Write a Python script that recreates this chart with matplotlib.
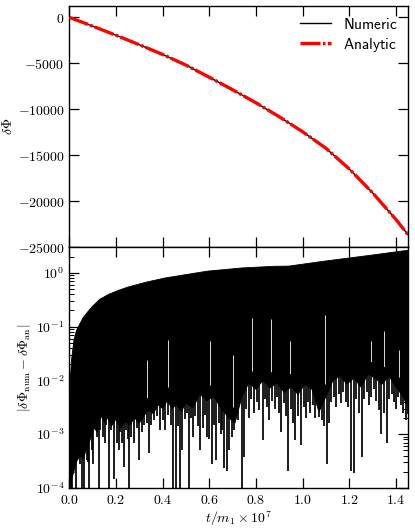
import numpy as np
import matplotlib
matplotlib.use('Agg')
import matplotlib.pyplot as plt
from matplotlib.ticker import FuncFormatter, LogLocator, NullFormatter

plt.rcParams['mathtext.fontset'] = 'cm'
plt.rcParams['font.size'] = 10

# top panel: accumulated phase shift
t_phase = [0.0, 0.1, 0.2, 0.3, 0.4, 0.5, 0.6, 0.7, 0.8, 0.9, 1.0, 1.1,
           1.2, 1.3, 1.4, 1.453]
dphi_num = [0, -960, -1950, -2980, -4040, -5200, -6520, -7880, -9300,
            -10820, -12450, -14250, -16500, -19100, -22000, -23700]
dphi_an = dphi_num

# bottom panel: |num - an|, read as upper envelope, lower edge of the
# dense band, individual deep dips and thin white gaps
env_t = [0.0, 0.002, 0.005, 0.01, 0.02, 0.03, 0.045, 0.06, 0.08, 0.1, 0.13,
         0.17, 0.21, 0.25, 0.33, 0.41, 0.49, 0.59, 0.74, 0.88, 0.94, 1.1,
         1.3, 1.453]
env_v = [1e-4, 2e-3, 0.012, 0.025, 0.056, 0.083, 0.112, 0.148, 0.19, 0.24,
         0.32, 0.40, 0.47, 0.54, 0.67, 0.80, 0.91, 1.07, 1.23, 1.32, 1.33,
         1.66, 2.14, 2.63]

floor_t = [0.0, 0.01, 0.02, 0.03, 0.045, 0.06, 0.075, 0.09, 0.105, 0.12,
           0.135, 0.15, 0.165, 0.18, 0.2, 0.22, 0.24, 0.26, 0.28, 0.3, 0.32,
           0.34, 0.36, 0.38, 0.4, 0.42, 0.44, 0.46, 0.48, 0.5, 0.53, 0.56,
           0.59, 0.62, 0.65, 0.68, 0.71, 0.74, 0.77, 0.8, 0.83, 0.86, 0.89,
           0.92, 0.95, 0.98, 1.01, 1.04, 1.07, 1.1, 1.13, 1.16, 1.19, 1.22,
           1.25, 1.28, 1.31, 1.34, 1.37, 1.4, 1.43, 1.453]
floor_v = [1.0e-4, 1.5e-4, 2.0e-4, 3.0e-4, 4.0e-4, 3.5e-4, 5.5e-4, 8.0e-4,
           1.3e-3, 1.1e-3, 2.2e-3, 1.7e-3, 2.0e-3, 1.4e-3, 1.9e-3, 1.3e-3,
           1.7e-3, 1.5e-3, 2.0e-3, 1.6e-3, 2.2e-3, 2.8e-3, 2.4e-3, 3.5e-3,
           3.0e-3, 4.2e-3, 3.0e-3, 3.5e-3, 2.6e-3, 3.8e-3, 3.1e-3, 5.5e-3,
           4.2e-3, 5.0e-3, 3.0e-3, 2.1e-3, 1.6e-3, 5.0e-3, 9.0e-3, 6.8e-3,
           1.0e-2, 7.2e-3, 9.0e-3, 6.0e-3, 7.5e-3, 5.5e-3, 8.5e-3, 6.8e-3,
           2.6e-3, 5.0e-3, 1.0e-2, 1.2e-2, 8.5e-3, 1.1e-2, 7.5e-3, 1.3e-2,
           1.1e-2, 8.5e-3, 1.2e-2, 7.5e-3, 5.0e-3, 3.0e-3]

dip_t = [0.006, 0.011, 0.017, 0.029, 0.037, 0.046, 0.054, 0.064, 0.074,
         0.080, 0.086, 0.096, 0.103, 0.117, 0.126, 0.132, 0.146, 0.152,
         0.157, 0.171, 0.178, 0.193, 0.203, 0.212, 0.218, 0.226, 0.235,
         0.243, 0.25, 0.257, 0.266, 0.279, 0.288, 0.30, 0.31, 0.32, 0.333,
         0.343, 0.352, 0.365, 0.375, 0.388, 0.40, 0.41, 0.425, 0.435, 0.443,
         0.457, 0.467, 0.476, 0.483, 0.495, 0.505, 0.514, 0.522, 0.529,
         0.54, 0.55, 0.561, 0.571, 0.58, 0.59, 0.60, 0.61, 0.62, 0.629,
         0.64, 0.648, 0.656, 0.664, 0.676, 0.686, 0.696, 0.705, 0.715,
         0.725, 0.74, 0.75, 0.758, 0.768, 0.778, 0.793, 0.805, 0.815, 0.829,
         0.84, 0.848, 0.857, 0.87, 0.88, 0.89, 0.898, 0.907, 0.918, 0.928,
         0.939, 0.948, 0.957, 0.966, 0.98, 0.993, 1.005, 1.015, 1.022,
         1.032, 1.045, 1.055, 1.069, 1.083, 1.092, 1.103, 1.111, 1.12,
         1.135, 1.145, 1.155, 1.165, 1.175, 1.185, 1.193, 1.207, 1.219,
         1.228, 1.243, 1.254, 1.265, 1.275, 1.285, 1.295, 1.305, 1.315,
         1.326, 1.336, 1.35, 1.362, 1.372, 1.382, 1.392, 1.40, 1.41, 1.42,
         1.43, 1.443, 1.45]
dip_v = [5e-5, 5e-5, 2.5e-4, 5e-5, 3.5e-4, 2.8e-4, 5e-5, 5e-5, 3.3e-4,
         3.0e-4, 5e-5, 5e-4, 2.8e-4, 9e-4, 5e-5, 1.2e-3, 9e-4, 7e-4,
         1.5e-3, 5e-5, 1.2e-3, 1.5e-4, 7e-4, 5e-4, 1.1e-3, 7e-4, 2.5e-4,
         1.2e-3, 8e-4, 5e-5, 9e-4, 7e-4, 1.3e-3, 3.3e-4, 1.1e-3, 1.5e-3,
         1.6e-3, 4.5e-4, 1.5e-3, 1.8e-3, 2.2e-3, 1.2e-3, 1.8e-3, 1.2e-3,
         2.3e-3, 1.5e-3, 5e-5, 5e-5, 1.4e-3, 5e-5, 5e-4, 1.9e-3, 2.5e-3,
         5e-5, 2.0e-3, 9e-4, 2.2e-3, 1.4e-3, 5e-4, 1.3e-3, 2.3e-3, 9e-4,
         8e-4, 2.8e-4, 1.5e-3, 3.3e-4, 1.6e-3, 1.0e-3, 1.2e-3, 2.4e-4,
         2.1e-4, 5e-4, 9e-4, 1.2e-3, 2.2e-3, 1.8e-3, 5e-5, 3.8e-4, 3.0e-3,
         2.0e-3, 4.5e-3, 2.5e-3, 4.0e-3, 2.8e-3, 7.8e-4, 4.5e-3, 3.2e-3,
         1.8e-3, 4.2e-3, 3.0e-3, 5.0e-3, 2.5e-3, 1.1e-3, 3.8e-3, 2.2e-3,
         2.1e-4, 3.0e-3, 1.6e-3, 7.8e-4, 2.2e-3, 6.3e-4, 3.2e-3, 2.0e-3,
         4.0e-3, 2.5e-3, 3.5e-3, 2.0e-3, 2.1e-3, 1.8e-3, 1.4e-3, 2.8e-4,
         1.6e-3, 4.0e-3, 5.0e-3, 3.2e-3, 5.5e-3, 3.8e-3, 6.0e-3, 4.0e-3,
         3.2e-3, 2.1e-4, 1.9e-4, 4.5e-3, 2.5e-3, 3.8e-4, 4.5e-3, 6.0e-3,
         3.5e-3, 5.0e-3, 7.0e-3, 4.2e-3, 2.8e-3, 1.0e-3, 2.5e-3, 7.0e-4,
         4.5e-3, 5.5e-3, 4.0e-3, 3.0e-3, 5.0e-3, 3.5e-3, 2.5e-3, 1.8e-3,
         2.4e-3]

gap_t = [0.331, 0.421, 0.604, 0.70, 0.781, 0.864, 0.947, 1.097, 1.293,
         1.35, 1.414]
gap_v = [0.024, 0.057, 0.053, 0.03, 0.145, 0.14, 0.053, 0.166, 0.055,
         0.082, 0.036]

T_MAX = 1.453


def math_int(v, pos):
    return r'$%d$' % int(round(v))


def math_dec(v, pos):
    return r'$%.1f$' % v


def math_pow(v, pos):
    if v <= 0:
        return ''
    return r'$10^{%d}$' % int(round(np.log10(v)))


def style_ax(ax):
    for sp in ax.spines.values():
        sp.set_linewidth(1.0)
    ax.tick_params(which='major', direction='in', length=7, width=0.9,
                   top=True, right=True, labelsize=10)
    ax.tick_params(which='minor', direction='in', length=3.5, width=0.7,
                   top=True, right=True)


fig = plt.figure(figsize=(4.15, 5.28), dpi=100)
ax1 = fig.add_axes([0.167, 0.532, 0.817, 0.4566])
ax2 = fig.add_axes([0.167, 0.0758, 0.817, 0.4562], sharex=ax1)

# top
ax1.plot(t_phase, dphi_num, color='black', lw=1.0, label=r'$\mathsf{Numeric}$',
         zorder=2)
ax1.plot(t_phase, dphi_an, color='red', lw=2.4, ls=(0, (6.0, 0.7, 0.8, 0.7)),
         label=r'$\mathsf{Analytic}$', zorder=3)
ax1.set_ylim(-25000, 1230)
ax1.set_yticks([0, -5000, -10000, -15000, -20000, -25000])
ax1.yaxis.set_major_formatter(FuncFormatter(math_int))
ax1.set_ylabel(r'$\delta\Phi$', fontsize=10, labelpad=2)
ax1.tick_params(labelbottom=False)
style_ax(ax1)
ax1.legend(loc='upper right', frameon=False, fontsize=11, handlelength=2.0,
           borderaxespad=0.3, labelspacing=0.25, handletextpad=0.8)

# bottom
poly_t = np.concatenate([env_t, floor_t[::-1]])
poly_v = np.concatenate([env_v, floor_v[::-1]])
ax2.fill(poly_t, poly_v, color='black', lw=0.6, zorder=2)
dip_top = np.interp(dip_t, floor_t, floor_v) * 1.8
ax2.vlines(dip_t, dip_v, dip_top, color='black', lw=1.25, zorder=3)
gap_bot = np.interp(gap_t, floor_t, floor_v) * 1.8
ax2.vlines(gap_t, gap_bot, gap_v, color='white', lw=0.6, zorder=2.5)
ax2.set_yscale('log')
ax2.set_ylim(1e-4, 3.0)
ax2.yaxis.set_major_locator(LogLocator(base=10, numticks=10))
ax2.yaxis.set_minor_locator(LogLocator(base=10, subs=np.arange(2, 10),
                                       numticks=20))
ax2.yaxis.set_major_formatter(FuncFormatter(math_pow))
ax2.yaxis.set_minor_formatter(NullFormatter())
ax2.set_xlim(0, T_MAX)
ax2.set_xticks([0.0, 0.2, 0.4, 0.6, 0.8, 1.0, 1.2, 1.4])
ax2.xaxis.set_major_formatter(FuncFormatter(math_dec))
ax2.set_ylabel(r'$|\delta\Phi_{\rm num}-\delta\Phi_{\rm an}|$', fontsize=10,
               labelpad=2)
ax2.set_xlabel(r'$t/m_1\times 10^7$', fontsize=10, labelpad=2)
style_ax(ax2)

fig.savefig('out.png', dpi=100)
